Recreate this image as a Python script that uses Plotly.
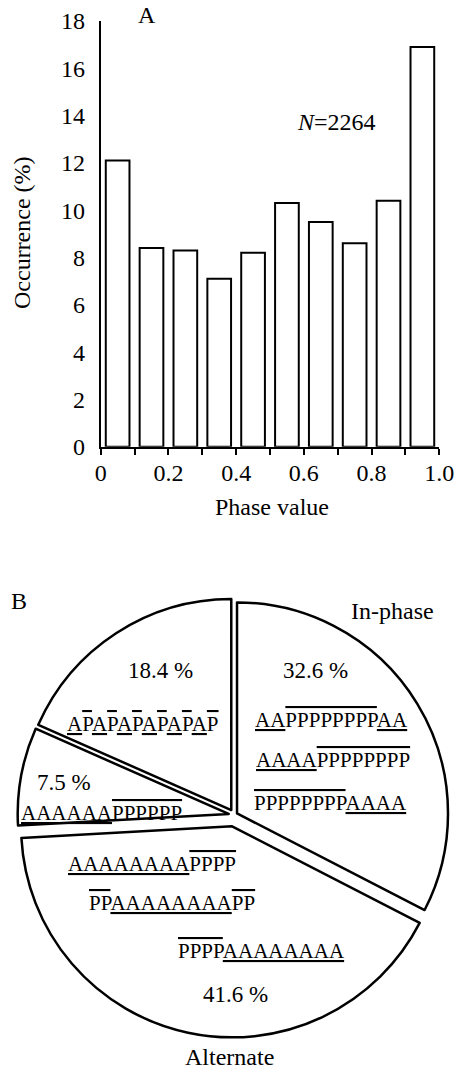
"""
Phase histogram (A) and phase-pattern pie (B), redrawn with Plotly.
"""

from itertools import groupby
import plotly.graph_objects as go

# --- panel A: phase value histogram ---
phase_bins = [0.05, 0.15, 0.25, 0.35, 0.45, 0.55, 0.65, 0.75, 0.85, 0.95]
occurrence = [12.1, 8.4, 8.3, 7.1, 8.2, 10.3, 9.5, 8.6, 10.4, 16.9]
x_tickvals = [0, 0.1, 0.2, 0.3, 0.4, 0.5, 0.6, 0.7, 0.8, 0.9, 1.0]
x_ticktext = ["0", "", "0.2", "", "0.4", "", "0.6", "", "0.8", "", "1.0"]
y_tickvals = [0, 2, 4, 6, 8, 10, 12, 14, 16, 18]
n_total = 2264

# --- panel B: phase patterns ---
pie_groups = ["In-phase", "Alternate", "Mixed", "Alternating"]
pie_values = [32.6, 41.6, 7.5, 18.4]
pie_names = ["In-phase", "Alternate", "", ""]
pie_patterns = [
    ["AAPPPPPPPPAA", "AAAAPPPPPPPP", "PPPPPPPPAAAA"],
    ["AAAAAAAAPPPP", "PPAAAAAAAAPP", "PPPPAAAAAAAA"],
    ["AAAAAAPPPPPP"],
    ["APAPAPAPAPAP"],
]

W, H = 459, 1071
FONT = "Liberation Serif"

# text placement (pixel centres in the page)
PCT_POS = [(315.5, 670), (235, 994), (63.5, 782), (160, 670)]
PAT_POS = [
    [(331, 720.3), (332.5, 759.7), (330.5, 802.7)],
    [(151.5, 863.7), (172, 903.3), (261.5, 950.7)],
    [(101, 812.7)],
    [(142.5, 723.7)],
]
NAME_POS = [(392.5, 610.8), (230, 1057), None, None]
PULLS = [0.014, 0.055, 0.028, 0.028]


def px(x, y):
    return x / W, 1 - y / H


def mark_runs(seq):
    """A-runs underlined, P-runs overlined."""
    out = []
    for letter, run in groupby(seq):
        deco = "underline" if letter == "A" else "overline"
        out.append(f'<span style="text-decoration:{deco};text-decoration-color:#555">'
                   f'{"".join(run)}</span>')
    return "".join(out)


def text(x, y, s, size=24, **kw):
    xp, yp = px(x, y)
    return dict(x=xp, y=yp, xref="paper", yref="paper", text=s, showarrow=False,
                xanchor="center", yanchor="middle",
                font=dict(family=FONT, size=size, color="black"), **kw)


fig = go.Figure()

fig.add_trace(go.Bar(
    x=phase_bins, y=occurrence, width=0.07,
    marker=dict(color="white", line=dict(color="black", width=2)),
    hovertemplate="%{x}: %{y}%<extra></extra>",
    showlegend=False,
))

# pie box centred on the pie, sized for the largest pull
cx, cy, r = 234.5, 815, 211
half = r * (1 + max(PULLS))
fig.add_trace(go.Pie(
    values=pie_values, labels=pie_groups,
    sort=False, direction="clockwise", rotation=0,
    pull=PULLS,
    marker=dict(colors=["white"] * len(pie_values), line=dict(color="black", width=2.5)),
    textinfo="none", hoverinfo="label+percent",
    showlegend=False, automargin=False,
    domain=dict(x=[(cx - half) / W, (cx + half) / W],
                y=[1 - (cy + half) / H, 1 - (cy - half) / H]),
))

ann = [
    text(147, 15, "A"),
    text(336, 122, f"<i>N</i>={n_total}"),
    text(22, 233, "Occurrence (%)", textangle=-90),
    text(271.5, 507, "Phase value"),
    text(19, 601, "B"),
]
for i, v in enumerate(pie_values):
    ann.append(text(*PCT_POS[i], f"{v} %", size=23))
    for seq, pos in zip(pie_patterns[i], PAT_POS[i]):
        ann.append(text(*pos, mark_runs(seq), size=21))
    if pie_names[i]:
        ann.append(text(*NAME_POS[i], pie_names[i]))

fig.update_layout(
    width=W, height=H, autosize=False,
    margin=dict(l=0, r=0, t=0, b=0, pad=0, autoexpand=False),
    paper_bgcolor="white", plot_bgcolor="white",
    font=dict(family=FONT, size=24, color="black"),
    xaxis=dict(
        domain=[100.7 / W, 439.3 / W], range=[0, 1],
        tickvals=x_tickvals, ticktext=x_ticktext,
        ticks="outside", ticklen=6, tickwidth=1.5, tickcolor="black",
        showline=True, linewidth=2, linecolor="black",
        showgrid=False, zeroline=False, automargin=False,
        ticklabelstandoff=-3,
        tickfont=dict(family=FONT, size=24),
    ),
    yaxis=dict(
        domain=[1 - 446.7 / H, 1 - 21 / H], range=[0, 18],
        tickvals=y_tickvals, ticks="",
        showline=True, linewidth=2, linecolor="black",
        showgrid=False, zeroline=False, automargin=False,
        ticklabelstandoff=9,
        tickfont=dict(family=FONT, size=24),
    ),
    annotations=ann,
)

# the page body's default 8px margin would push the figure off the window
fig.write_html("out.html", config={"displayModeBar": False},
               post_script="document.body.style.margin='0';")
